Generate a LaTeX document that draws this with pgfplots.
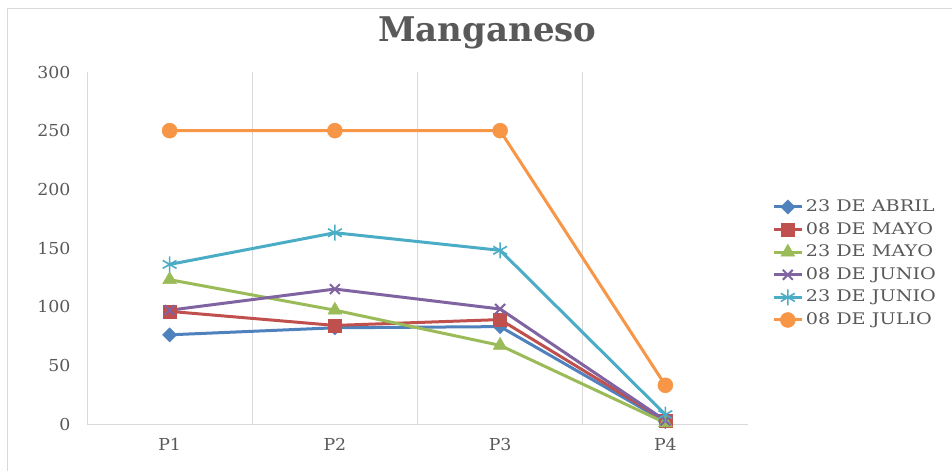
\documentclass[border=0pt]{standalone}
\usepackage{fontspec}
\setmainfont{DejaVu Serif}
\newfontfamily\legfont[FakeStretch=1.2]{DejaVu Serif}
\newfontfamily\tickfont[FakeStretch=1.05]{DejaVu Serif}
\usepackage{pgfplots}
\pgfplotsset{compat=1.18}
\definecolor{txt}{HTML}{595959}
\definecolor{gridc}{HTML}{D9D9D9}
\definecolor{cA}{HTML}{4F81BD}
\definecolor{cB}{HTML}{C0504D}
\definecolor{cC}{HTML}{9BBB59}
\definecolor{cD}{HTML}{8064A2}
\definecolor{cE}{HTML}{4BACC6}
\definecolor{cF}{HTML}{F79646}
\begin{document}
\begin{tikzpicture}
\useasboundingbox (0pt,0pt) rectangle (952pt,471pt);
\draw[gridc, line width=1pt] (7pt,0pt) -- (7pt,462pt) -- (952pt,462pt);
\node[anchor=base, text=txt, font=\bfseries\fontsize{34}{40}\selectfont] at (487.5pt,429pt) {Manganeso};
\begin{axis}[
  at={(87pt,47pt)}, anchor=south west,
  scale only axis, width=661pt, height=352pt,
  xmin=-0.5, xmax=3.5, ymin=0, ymax=300,
  xtick={0,1,2,3}, xticklabels={P1,P2,P3,P4},
  ytick={0,50,100,150,200,250,300},
  /pgf/number format/assume math mode=true,
  axis x line*=bottom, axis y line*=left,
  axis line style={draw=gridc, line width=1pt, -},
  major tick length=0pt,
  tick style={draw=none},
  ticklabel style={inner sep=0pt, text=txt},
  yticklabel style={font=\tickfont\fontsize{16.5}{17}\selectfont, xshift=-15pt},
  xticklabel style={font=\tickfont\fontsize{16.5}{17}\selectfont, yshift=-13pt},
  extra x ticks={0.5,1.5,2.5}, extra x tick labels={},
  extra x tick style={grid=major, major grid style={draw=gridc, line width=1pt}},
  clip=false,
  line width=3pt,
  legend cell align=left,
  legend style={draw=none, fill=none, at={(1.030,0.456)}, anchor=west,
    font=\legfont\fontsize{16}{16}\selectfont, text=txt,
    nodes={inner sep=2.5pt, text height=12pt, text depth=3pt},
    row sep=2.6pt},
  legend image code/.code={
    \draw[mark repeat=2, mark phase=2] plot coordinates {(0pt,0pt) (14pt,0pt) (28pt,0pt)};
  },
]
\addplot[cA, mark=square*, mark size=5pt, mark options={solid, rotate=45, fill=cA, line width=0.5pt}] coordinates {(0,76) (1,82) (2,83) (3,2)};
\addlegendentry{23 DE ABRIL}
\addplot[cB, mark=square*, mark size=6.5pt, mark options={solid, fill=cB, line width=0.5pt}] coordinates {(0,96) (1,84) (2,89) (3,3)};
\addlegendentry{08 DE MAYO}
\addplot[cC, mark=triangle*, mark size=8pt, mark options={solid, fill=cC, line width=0.5pt}] coordinates {(0,123) (1,97) (2,67) (3,1)};
\addlegendentry{23 DE MAYO}
\addplot[cD, mark=x, mark size=7pt, mark options={solid, line width=2pt}] coordinates {(0,97) (1,115) (2,98) (3,3)};
\addlegendentry{08 DE JUNIO}
\addplot[cE, mark=asterisk, mark size=8pt, mark options={solid, line width=1.6pt}] coordinates {(0,136) (1,163) (2,148) (3,8)};
\addlegendentry{23 DE JUNIO}
\addplot[cF, mark=*, mark size=7.5pt, mark options={solid, fill=cF, line width=0.5pt}] coordinates {(0,250) (1,250) (2,250) (3,33)};
\addlegendentry{08 DE JULIO}
\end{axis}
\end{tikzpicture}
\end{document}
